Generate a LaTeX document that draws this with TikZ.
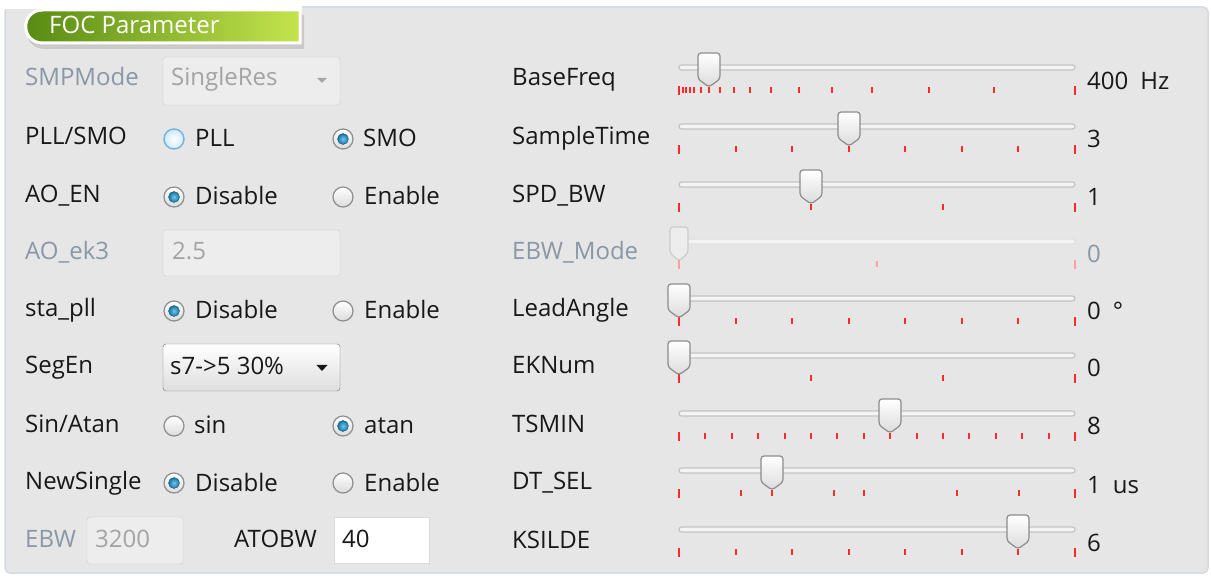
\documentclass[tikz,border=0pt]{standalone}
\usepackage{fontspec}
\setmainfont{Open Sans}
\definecolor{panel}{HTML}{E6E6E6}
\definecolor{frameedge}{HTML}{D5DAE2}
\definecolor{txt}{HTML}{181818}
\definecolor{dimtxt}{HTML}{8A97A6}
\definecolor{boxtxt}{HTML}{A3A3A3}
\definecolor{boxedge}{HTML}{CDCDCD}
\definecolor{boxfill}{HTML}{EDEDED}
\definecolor{tabdark}{HTML}{568912}
\definecolor{tabmid}{HTML}{6A9B1A}
\definecolor{tablight}{HTML}{C4E44C}
\definecolor{tickred}{HTML}{FF2A2A}
\definecolor{radioedge}{HTML}{8E8E8E}
\definecolor{dotblue}{HTML}{16729F}
\definecolor{dotlight}{HTML}{6CC8F0}
\definecolor{hoveredge}{HTML}{6FB3E0}
\definecolor{hoverfill}{HTML}{CFE9F8}
\definecolor{knobedge}{HTML}{8C8C8C}
\definecolor{trackedge}{HTML}{C3C3C3}
\definecolor{trackfill}{HTML}{F4F4F4}

\begin{document}
\begin{tikzpicture}[x=1pt,y=-1pt,font=\fontsize{24}{29}\selectfont]
	\tikzstyle{lab}=[anchor=base west,inner sep=0pt,text=txt]
	\tikzstyle{dim}=[anchor=base west,inner sep=0pt,text=dimtxt]
	\tikzstyle{grey}=[anchor=base west,inner sep=0pt,text=boxtxt]
	\tikzstyle{radio}=[circle,draw=radioedge,line width=1.2pt,top color=white,bottom color=black!14,minimum size=20pt,inner sep=0pt]
	\tikzstyle{hover}=[circle,draw=hoveredge,line width=1.4pt,inner color=white,outer color=hoverfill,minimum size=20pt,inner sep=0pt]
	\tikzstyle{dot}=[circle,draw=dotblue!80!black,inner color=dotlight,outer color=dotblue,minimum size=11pt,inner sep=0pt]
	\tikzstyle{box}=[draw=boxedge,fill=boxfill,rounded corners=3pt]
	\tikzstyle{track}=[draw=trackedge,fill=trackfill,line width=1.2pt,rounded corners=2.5pt]
	\tikzstyle{knob}=[draw=knobedge,line width=1.2pt,top color=white,bottom color=black!14,rounded corners=3pt]
	\tikzstyle{offknob}=[draw=black!20,line width=1.2pt,fill=black!7,rounded corners=3pt]
	\tikzstyle{tick}=[draw=tickred,line width=2pt]
	\tikzstyle{offtick}=[draw=tickred!45,line width=2pt]

	% page and panel
	\useasboundingbox (0,0) rectangle (1211,577);
	\fill[white] (0,0) rectangle (1211,577);
	\draw[draw=frameedge,fill=panel,line width=1.5pt,rounded corners=5pt] (5,7) rectangle (1208,573);

	% title tab
	\fill[black,opacity=0.12] (304,15) -- (45,15) .. controls (21,15) and (21,49) .. (45,49) -- (304,49) -- cycle;
	\fill[white] (0,0) rectangle (302,9);
	\draw[white,line width=3pt,left color=tabdark,middle color=tabmid,right color=tablight] (300,10) -- (43,10) .. controls (20,10) and (20,43) .. (43,43) -- (300,43) -- cycle;
	\node[anchor=base west,inner sep=0pt,text=white] (title) at (49,34) {FOC Parameter};

	% left column
	\node[dim] (smp) at (25,86) {SMPMode};
	\node[lab] (pllsmo) at (25,145) {PLL/SMO};
	\node[lab] (aoen) at (25,203) {AO\_EN};
	\node[dim] (aoek) at (25,260) {AO\_ek3};
	\node[lab] (stapll) at (25,317) {sta\_pll};
	\node[lab] (segen) at (25,374) {SegEn};
	\node[lab] (sinatan) at (25,432) {Sin/Atan};
	\node[lab] (newsingle) at (25,489) {NewSingle};
	\node[dim] (ebw) at (25,547) {EBW};

	\draw[box] (163,57) rectangle (340,105);
	\node[grey] (smpval) at (171,86) {SingleRes};
	\fill[black!35] (317,78) -- (327,78) -- (322,83) -- cycle;

	\node[hover] (pll) at (174,139) {};
	\node[lab] (pllt) at (195,147) {PLL};
	\node[radio] (smo) at (343,139) {};
	\node[dot] at (smo) {};
	\node[lab] (smot) at (363,147) {SMO};

	\node[radio] (aodis) at (174,197) {};
	\node[dot] at (aodis) {};
	\node[lab] (aodist) at (195,205) {Disable};
	\node[radio] (aoena) at (343,197) {};
	\node[lab] (aoenat) at (364,205) {Enable};

	\draw[box] (163,230) rectangle (340,276);
	\node[grey] (ekval) at (172,260) {2.5};

	\node[radio] (stadis) at (174,311) {};
	\node[dot] at (stadis) {};
	\node[lab] (stadist) at (195,319) {Disable};
	\node[radio] (staena) at (343,311) {};
	\node[lab] (staenat) at (364,319) {Enable};

	\draw[draw=black!55,top color=white,bottom color=black!13,rounded corners=3pt] (163,344) rectangle (340,391);
	\node[lab] (segval) at (170,375) {s7->5 30\%};
	\fill[txt] (316.5,365) -- (327.5,365) -- (322,371) -- cycle;

	\node[radio] (sin) at (174,426) {};
	\node[lab] (sint) at (194,434) {sin};
	\node[radio] (atan) at (343,426) {};
	\node[dot] at (atan) {};
	\node[lab] (atant) at (364,434) {atan};

	\node[radio] (nsdis) at (174,483) {};
	\node[dot] at (nsdis) {};
	\node[lab] (nsdist) at (195,491) {Disable};
	\node[radio] (nsena) at (343,483) {};
	\node[lab] (nsenat) at (364,491) {Enable};

	\draw[box] (87,517) rectangle (183,564);
	\node[grey] (ebwval) at (95,547) {3200};
	\node[lab] (atobw) at (234,547) {ATOBW};
	\draw[draw=black!15,fill=white] (334,517) rectangle (429,563);
	\node[lab] (atobwval) at (342,547) {40};

	% slider names
	\node[lab] (basefreq) at (512,86) {BaseFreq};
	\node[lab] (sampletime) at (512,145) {SampleTime};
	\node[lab] (spdbw) at (512,203) {SPD\_BW};
	\node[dim] (ebwmode) at (512,260) {EBW\_Mode};
	\node[lab] (leadangle) at (512,317) {LeadAngle};
	\node[lab] (eknum) at (512,374) {EKNum};
	\node[lab] (tsmin) at (512,432) {TSMIN};
	\node[lab] (dtsel) at (512,489) {DT\_SEL};
	\node[lab] (ksilde) at (512,548) {KSILDE};

	% tracks and end ticks
	\foreach \ry in {78,137,195,309,366,424,481,540}
	{
		\draw[track] (679,\ry-13) rectangle (1075,\ry-8);
		\draw[tick] (679,\ry+8) -- ++(0,9);
		\draw[tick] (1075,\ry+8) -- ++(0,9);
	}
	\draw[track,draw=black!12] (679,239) rectangle (1075,244);
	\draw[offtick] (679,260) -- ++(0,9);
	\draw[offtick] (1075,260) -- ++(0,9);

	% inner ticks
	\foreach \tx in {683,686,690,694,701,709,720,734,750,771,799,832,872,929,994}
		\draw[tick] (\tx,87) -- ++(0,6);
	\foreach \i in {1,...,6}
	{
		\draw[tick] (679+56.57*\i,146) -- ++(0,6);
		\draw[tick] (679+56.57*\i,318) -- ++(0,6);
		\draw[tick] (679+56.57*\i,549) -- ++(0,6);
	}
	\foreach \i in {1,2}
	{
		\draw[tick] (679+132*\i,204) -- ++(0,6);
		\draw[tick] (679+132*\i,375) -- ++(0,6);
	}
	\draw[offtick] (877,261) -- ++(0,6);
	\foreach \i in {1,...,14}
		\draw[tick] (679+26.4*\i,433) -- ++(0,6);
	\foreach \tx in {741,772,834,864,957,1019}
		\draw[tick] (\tx,490) -- ++(0,6);

	% knobs
	\foreach \kx/\ky in {709/78,849/137,811/195,679/309,679/366,890/424,772/481,1018/540}
		\draw[knob] (\kx,\ky+9) -- (\kx-11,\ky+1) -- (\kx-11,\ky-25) -- (\kx+11,\ky-25) -- (\kx+11,\ky+1) -- cycle;
	\draw[offknob] (679,261) -- (670,253) -- (670,227) -- (688,227) -- (688,253) -- cycle;

	% values
	\node[lab] (basefreqval) at (1087,90) {400\enspace Hz};
	\node[lab] (sampletimeval) at (1087,148) {3};
	\node[lab] (spdbwval) at (1087,206) {1};
	\node[dim] (ebwmodeval) at (1087,263) {0};
	\node[lab] (leadangleval) at (1087,320) {0\enspace °};
	\node[lab] (eknumval) at (1087,377) {0};
	\node[lab] (tsminval) at (1087,435) {8};
	\node[lab] (dtselval) at (1087,493) {1\enspace us};
	\node[lab] (ksildeval) at (1087,551) {6};
\end{tikzpicture}
\end{document}
